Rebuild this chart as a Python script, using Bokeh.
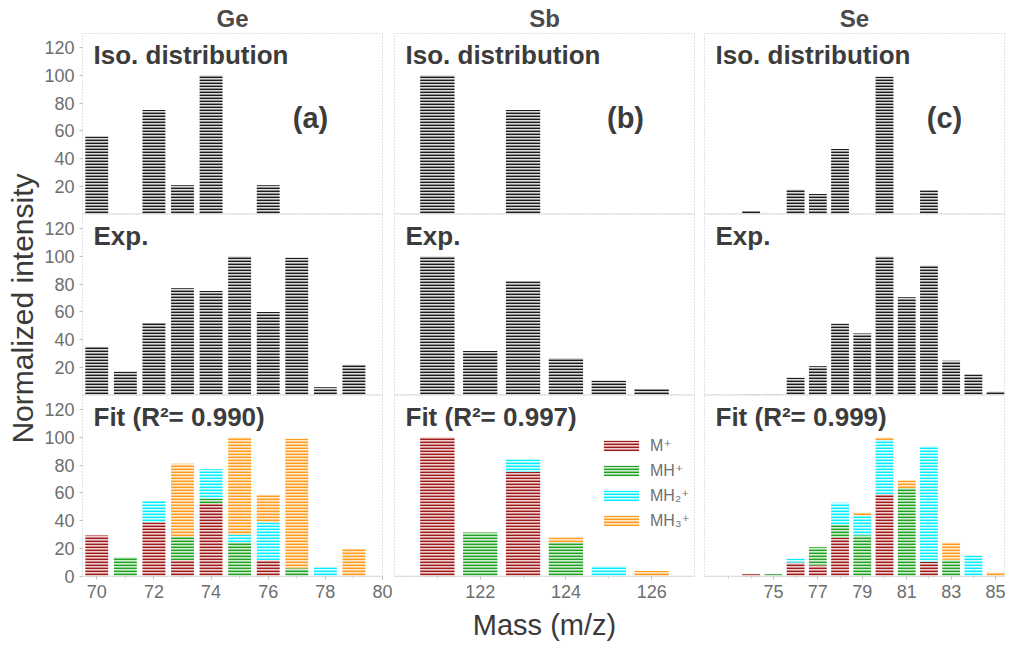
import numpy as np
from bokeh.embed import file_html
from bokeh.resources import INLINE
from bokeh.plotting import figure
from bokeh.models import ColumnDataSource, Range1d, FixedTicker, Label, Span, GridBox

FONT = "Liberation Sans, DejaVu Sans"

# ---- data ----
elements = ["Ge", "Sb", "Se"]
panel_tags = ["(a)", "(b)", "(c)"]
fit_r2 = ["0.990", "0.997", "0.999"]

# isotope distribution (normalized)
ge_iso_mass = [70, 72, 73, 74, 76]
ge_iso = [56, 75, 21, 100, 21]
sb_iso_mass = [121, 123]
sb_iso = [100, 75]
se_iso_mass = [74, 76, 77, 78, 80, 82]
se_iso = [2.5, 18, 14.7, 47, 99, 17.5]

# experimental spectra
ge_mass = [70, 71, 72, 73, 74, 75, 76, 77, 78, 79]
ge_exp = [35, 17, 52, 77, 75, 100, 60, 99, 6, 22]
sb_mass = [121, 122, 123, 124, 125, 126]
sb_exp = [100, 32, 82, 27, 10.6, 4.7]
se_mass = [74, 75, 76, 77, 78, 79, 80, 81, 82, 83, 84, 85]
se_exp = [1, 1, 12.7, 21, 51.5, 44.5, 100, 70.6, 93.4, 25, 15, 2.8]

# fitted contributions M+, MH+, MH2+, MH3+
ge_m = [29.5, 0, 39, 11.7, 52, 0, 11.7, 0, 0, 0]
ge_mh = [0, 14, 0, 17, 4, 24.6, 0, 6, 0, 0]
ge_mh2 = [0, 0, 15.5, 0, 21, 5.4, 27.3, 0, 6.6, 0]
ge_mh3 = [0, 0, 0, 52.3, 0, 70, 19.5, 93, 0, 20]

sb_m = [100, 0, 75, 0, 0, 0]
sb_mh = [0, 31.6, 0, 24.6, 0, 0]
sb_mh2 = [0, 0, 9, 0, 7.5, 0]
sb_mh3 = [0, 0, 0, 3.4, 0, 4]

se_m = [1.6, 0, 10, 8, 27.8, 0, 59, 0, 10.5, 0, 0, 0]
se_mh = [0, 1.6, 0, 13, 9.2, 29.7, 0, 63.6, 0, 12, 0, 0]
se_mh2 = [0, 0, 2.8, 0, 16, 14.1, 39, 0, 83.2, 0, 15, 0]
se_mh3 = [0, 0, 0, 0, 0, 2.2, 2, 5.4, 0, 12.3, 0, 3]

layer_names = ["M", "MH", "MH2", "MH3"]
layer_labels = ["M\u207a", "MH\u207a", "MH\u2082\u207a", "MH\u2083\u207a"]

# axis ticks
ge_ticks = [70, 72, 74, 76, 78, 80]
ge_minor = [71, 73, 75, 77, 79]
sb_ticks = [122, 124, 126]
sb_minor = [121, 123, 125]
se_ticks = [75, 77, 79, 81, 83, 85]
se_minor = [73, 74, 76, 78, 80, 82, 84]
y_ticks_top = [20, 40, 60, 80, 100, 120]
y_ticks_bottom = [0, 20, 40, 60, 80, 100, 120]

# ---- styling ----
hatch_colors = ["#9e1a1a", "#22a022", "#00eeff", "#ff9c1c"]
fill_colors = ["#efd0d0", "#d2eed2", "#d8fcff", "#ffe8cc"]
x_limits = [(69.5, 80.0), (120.0, 127.0), (71.9, 85.4)]
FW, FH = 300, 181
border_left = [42, 2, 6]
border_right = [10, 4, 6]

iso = [(ge_iso_mass, ge_iso), (sb_iso_mass, sb_iso), (se_iso_mass, se_iso)]
exp = [(ge_mass, ge_exp), (sb_mass, sb_exp), (se_mass, se_exp)]
fits = [(ge_mass, [ge_m, ge_mh, ge_mh2, ge_mh3]),
        (sb_mass, [sb_m, sb_mh, sb_mh2, sb_mh3]),
        (se_mass, [se_m, se_mh, se_mh2, se_mh3])]
ticks = [(ge_ticks, ge_minor), (sb_ticks, sb_minor), (se_ticks, se_minor)]


def make_panel(row, col):
    x0, x1 = x_limits[col]
    p = figure(frame_width=FW, frame_height=FH, output_backend="svg",
               toolbar_location=None, x_range=Range1d(x0, x1),
               y_range=Range1d(0, 130),
               min_border_left=border_left[col], min_border_right=border_right[col],
               min_border_top=0, min_border_bottom=66 if row == 2 else 0)
    p.grid.visible = False
    p.outline_line_color = "#c4c4c4"
    p.outline_line_dash = "1 2"
    p.add_layout(Span(location=0, dimension="width", line_color="#d4d4d4", line_width=1.5))

    if row == 0:
        p.title.text = elements[col]
        p.title.align = "center"
        p.title.text_font = FONT
        p.title.text_font_size = "24px"
        p.title.text_font_style = "bold"
        p.title.text_color = "#4a4a4a"
        p.title.standoff = 4

    # x axis
    if row < 2:
        p.xaxis.visible = False
    else:
        major, minor = ticks[col]
        p.xaxis.ticker = FixedTicker(ticks=major, minor_ticks=minor)
        p.xaxis.major_label_text_font = FONT
        p.xaxis.major_label_text_font_size = "18px"
        p.xaxis.major_label_text_color = "#6e6e6e"
        p.xaxis.axis_line_color = None
        p.xaxis.major_tick_line_color = "#bbbbbb"
        p.xaxis.minor_tick_line_color = "#cccccc"
        p.xaxis.major_tick_in = 0
        p.xaxis.major_tick_out = 3
        p.xaxis.minor_tick_in = 0
        p.xaxis.minor_tick_out = 2
        if col == 1:
            p.xaxis.axis_label = "Mass (m/z)"
            p.xaxis.axis_label_text_font = FONT
            p.xaxis.axis_label_text_font_size = "29px"
            p.xaxis.axis_label_text_font_style = "normal"
            p.xaxis.axis_label_text_color = "#3a3a3a"
            p.xaxis.axis_label_standoff = 8

    # y axis
    if col == 0:
        p.yaxis.ticker = FixedTicker(ticks=y_ticks_bottom if row == 2 else y_ticks_top)
        p.yaxis.major_label_text_font = FONT
        p.yaxis.major_label_text_font_size = "18px"
        p.yaxis.major_label_text_color = "#6e6e6e"
        p.yaxis.axis_line_color = None
        p.yaxis.major_tick_line_color = "#bbbbbb"
        p.yaxis.major_tick_in = 0
        p.yaxis.major_tick_out = 3
        p.yaxis.minor_tick_line_color = None
    else:
        p.yaxis.visible = False

    hatch = dict(hatch_pattern="horizontal_line", hatch_scale=3, hatch_weight=1.8,
                 line_color=None, width=0.8)
    if row < 2:
        xs, ys = (iso if row == 0 else exp)[col]
        p.vbar(x=xs, top=ys, fill_color="#dadada", hatch_color="#1c1c1c", **hatch)
        text = "Iso. distribution" if row == 0 else "Exp."
    else:
        xs, parts = fits[col]
        src = ColumnDataSource(dict(mass=xs, **dict(zip(layer_names, parts))))
        extra = dict(legend_label=layer_labels) if col == 1 else {}
        p.vbar_stack(layer_names, x="mass", source=src, fill_color=fill_colors,
                     hatch_color=hatch_colors, **hatch, **extra)
        text = "Fit (R\u00b2= %s)" % fit_r2[col]
        if col == 1:
            lg = p.legend[0]
            lg.location = (205, 46)
            lg.glyph_width = 44
            lg.glyph_height = 13
            lg.label_height = 18
            lg.spacing = 6
            lg.padding = 0
            lg.margin = 0
            lg.label_standoff = 7
            lg.label_text_font = FONT
            lg.label_text_font_size = "16px"
            lg.label_text_color = "#707070"
            lg.background_fill_alpha = 0
            lg.border_line_color = None

    p.add_layout(Label(x=x0, y=130, x_offset=11, y_offset=-6, text=text,
                       text_baseline="top", text_align="left", text_font=FONT,
                       text_font_size="26px", text_font_style="bold",
                       text_color="#3c3c3c"))
    if row == 0:
        frac = [0.76, 0.77, 0.80][col]
        p.add_layout(Label(x=x0 + frac * (x1 - x0), y=130, y_offset=-84,
                           text=panel_tags[col], text_align="center",
                           text_baseline="middle", text_font=FONT,
                           text_font_size="29px", text_font_style="bold",
                           text_color="#3c3c3c"))
    return p


children = []
for r in range(3):
    for c in range(3):
        children.append((make_panel(r, c), r, c + 1))

# vertical axis title spanning all rows
lab = figure(width=40, height=600, output_backend="svg", toolbar_location=None,
             x_range=Range1d(0, 1), y_range=Range1d(0, 1), min_border=0)
lab.axis.visible = False
lab.grid.visible = False
lab.outline_line_color = None
lab.add_layout(Label(x=0.55, y=0.45, text="Normalized intensity", angle=np.pi / 2,
                     text_align="center", text_baseline="middle", text_font=FONT,
                     text_font_size="30px", text_color="#3a3a3a"))
children.append((lab, 0, 0, 3, 1))

p = GridBox(children=children, spacing=0)

open("out.html", "w").write(file_html(p, INLINE))
